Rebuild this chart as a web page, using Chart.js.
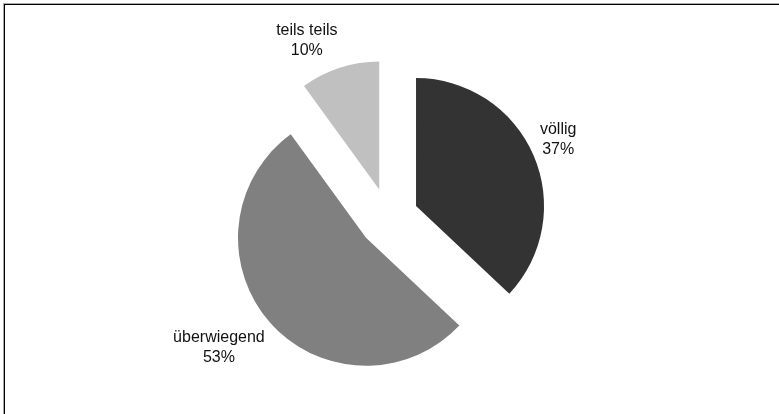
<!DOCTYPE html>
<html>
<head>
<meta charset="utf-8">
<script src="https://cdn.jsdelivr.net/npm/chart.js@4"></script>
<style>
  html, body { margin: 0; padding: 0; background: #fff; overflow: hidden; }
  #wrap { position: relative; width: 779px; height: 414px; }
  #frame {
    position: absolute; left: 4px; top: 4px; width: 820px; height: 460px;
    border: 1px solid #000; box-shadow: -1px -1px 0 #aaa;
  }
  canvas { position: absolute; left: 0; top: 0; }
</style>
</head>
<body>
<div id="wrap">
  <div id="frame"></div>
  <canvas id="myChart" width="779" height="414"></canvas>
</div>
<script>
// categories and shares (%)
let labels = ["völlig", "überwiegend", "teils teils"];
let values = [37, 53, 10];
let colors = ["#333333", "#808080", "#c0c0c0"];

const EXPLODE = 30;

// move every slice out along its bisector (pure translation, radius unchanged)
const explode = {
  id: "explode",
  afterDatasetsUpdate(chart) {
    chart.getDatasetMeta(0).data.forEach((arc) => {
      const mid = (arc.startAngle + arc.endAngle) / 2;
      arc.x += Math.cos(mid) * EXPLODE;
      arc.y += Math.sin(mid) * EXPLODE;
    });
  },
};

// category name + percentage outside each slice
const sliceLabels = {
  id: "sliceLabels",
  afterDatasetsDraw(chart) {
    const ctx = chart.ctx;
    const meta = chart.getDatasetMeta(0);
    const lineH = 20, gap = 7;
    ctx.save();
    ctx.font = "16px 'Liberation Sans', Arial, sans-serif";
    ctx.fillStyle = "#111";
    ctx.textAlign = "center";
    ctx.textBaseline = "middle";
    meta.data.forEach((arc, i) => {
      const mid = (arc.startAngle + arc.endAngle) / 2;
      const dx = Math.cos(mid), dy = Math.sin(mid);
      const pct = values[i] + "%";
      const w = Math.max(ctx.measureText(labels[i]).width, ctx.measureText(pct).width);
      const h = lineH * 2;
      const ax = arc.x + dx * arc.outerRadius;
      const ay = arc.y + dy * arc.outerRadius;
      const cx = ax + gap * dx + Math.sign(dx) * w / 2;
      const cy = ay + gap * dy + Math.max(-1, Math.min(1, 1.6 * dy)) * h / 2;
      ctx.fillText(labels[i], cx, cy - lineH / 2);
      ctx.fillText(pct, cx, cy + lineH / 2);
    });
    ctx.restore();
  },
};

let mychart = document.getElementById("myChart").getContext("2d");
let pieChart = new Chart(mychart, {
  type: "pie",
  data: {
    labels: labels,
    datasets: [
      {
        data: values,
        backgroundColor: colors,
        borderWidth: 0,
        radius: 128,
      },
    ],
  },
  options: {
    responsive: false,
    animation: false,
    layout: { padding: { top: 22, right: 2, left: 0, bottom: 0 } },
    plugins: {
      legend: { display: false },
      tooltip: { enabled: false },
    },
  },
  plugins: [explode, sliceLabels],
});
</script>
</body>
</html>
